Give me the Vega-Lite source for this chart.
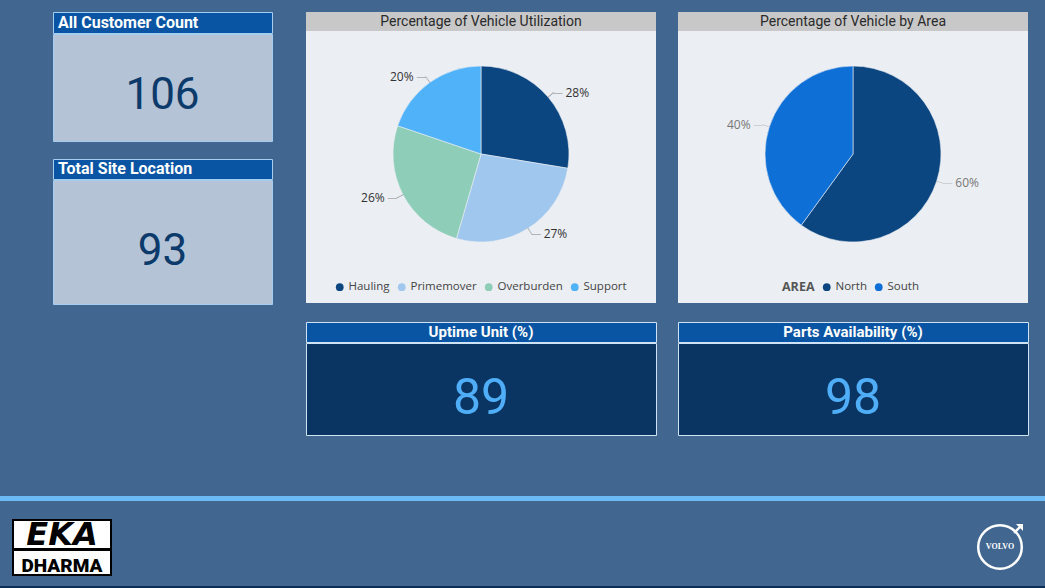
{
  "$schema": "https://vega.github.io/schema/vega-lite/v6.json",
  "background": "#41668F",
  "padding": {"left": 0, "right": 0, "top": 11, "bottom": 0},
  "config": {"view": {"stroke": null}},
  "datasets": {
    "cards": [
      {"card": "All Customer Count", "value": 106},
      {"card": "Total Site Location", "value": 93},
      {"card": "Uptime Unit (%)", "value": 89},
      {"card": "Parts Availability (%)", "value": 98}
    ],
    "titles": [
      {"title": "Percentage of Vehicle Utilization"},
      {"title": "Percentage of Vehicle by Area"}
    ],
    "utilization": [
      {"type": "Hauling", "pct": 0.276},
      {"type": "Primemover", "pct": 0.269},
      {"type": "Overburden", "pct": 0.257},
      {"type": "Support", "pct": 0.198}
    ],
    "area": [
      {"AREA": "North", "pct": 0.6},
      {"AREA": "South", "pct": 0.4}
    ],
    "brands": [
      {"brand": "EKA"},
      {"brand": "DHARMA"},
      {"brand": "VOLVO"}
    ],
    "empty": []
  },
  "resolve": {"scale": {"color": "independent", "theta": "independent"}},
  "spacing": 60,
  "vconcat": [
    {
      "spacing": 32,
      "resolve": {"scale": {"color": "independent", "theta": "independent"}},
      "hconcat": [
        {"width": 20, "height": 1, "data": {"name": "empty"}, "mark": "text", "view": {"stroke": null}},
        {
          "spacing": 16,
          "vconcat": [
            {
              "spacing": -2,
              "vconcat": [
                {
                  "width": 219, "height": 21,
                  "view": {"fill": "#0A55A3", "stroke": "#A5CDEF", "strokeWidth": 1},
                  "data": {"name": "cards"},
                  "transform": [{"filter": "datum.card === 'All Customer Count'"}],
                  "mark": {"type": "text", "align": "left", "baseline": "middle", "font": "Roboto", "fontSize": 16, "fontWeight": "bold", "fill": "#FFFFFF"},
                  "encoding": {"x": {"value": 5}, "text": {"field": "card", "type": "nominal"}}
                },
                {
                  "width": 219, "height": 107,
                  "view": {"fill": "#B4C4D6", "stroke": "#A5CDEF", "strokeWidth": 1},
                  "data": {"name": "cards"},
                  "transform": [{"filter": "datum.card === 'All Customer Count'"}],
                  "mark": {"type": "text", "align": "center", "baseline": "alphabetic", "dy": 21.5, "font": "Roboto", "fontSize": 44, "fontWeight": "normal", "fill": "#0B3A6B"},
                  "encoding": {"text": {"field": "value", "type": "nominal"}}
                }
              ]
            },
            {
              "spacing": -2,
              "vconcat": [
                {
                  "width": 219, "height": 20,
                  "view": {"fill": "#0A55A3", "stroke": "#A5CDEF", "strokeWidth": 1},
                  "data": {"name": "cards"},
                  "transform": [{"filter": "datum.card === 'Total Site Location'"}],
                  "mark": {"type": "text", "align": "left", "baseline": "middle", "font": "Roboto", "fontSize": 16, "fontWeight": "bold", "fill": "#FFFFFF"},
                  "encoding": {"x": {"value": 5}, "text": {"field": "card", "type": "nominal"}}
                },
                {
                  "width": 219, "height": 124,
                  "view": {"fill": "#B4C4D6", "stroke": "#A5CDEF", "strokeWidth": 1},
                  "data": {"name": "cards"},
                  "transform": [{"filter": "datum.card === 'Total Site Location'"}],
                  "mark": {"type": "text", "align": "center", "baseline": "alphabetic", "dy": 22.5, "font": "Roboto", "fontSize": 44, "fontWeight": "normal", "fill": "#0B3A6B"},
                  "encoding": {"text": {"field": "value", "type": "nominal"}}
                }
              ]
            }
          ]
        },
        {
          "spacing": 20,
          "resolve": {"scale": {"color": "independent", "theta": "independent"}},
          "hconcat": [
            {
              "spacing": 18,
              "vconcat": [
                {
                  "spacing": 0,
                  "vconcat": [
                    {
                      "width": 350, "height": 19,
                      "view": {"fill": "#C8C8C8", "stroke": null},
                      "data": {"name": "titles"},
                      "transform": [{"filter": "datum.title === 'Percentage of Vehicle Utilization'"}],
                      "mark": {"type": "text", "align": "center", "baseline": "middle", "font": "Roboto", "fontSize": 14, "fontWeight": "normal", "fill": "#2A2A2A"},
                      "encoding": {"text": {"field": "title", "type": "nominal"}}
                    },
                    {
                      "width": 350, "height": 272,
                      "view": {"fill": "#EBEEF3", "stroke": null},
                      "data": {"name": "utilization"},
                      "encoding": {
                        "theta": {"field": "pct", "type": "quantitative", "stack": true},
                        "order": {"field": "pct", "type": "quantitative", "sort": "descending"}
                      },
                      "layer": [
                        {
                          "mark": {"type": "arc", "outerRadius": 88, "yOffset": -13, "stroke": "#EBEEF3", "strokeWidth": 0.6},
                          "encoding": {
                            "color": {
                              "field": "type", "type": "nominal",
                              "scale": {"domain": ["Hauling", "Primemover", "Overburden", "Support"], "range": ["#0B4680", "#A0C7EE", "#8ECDB8", "#50B2F8"]},
                              "legend": {"orient": "none", "legendX": 28, "legendY": 269, "direction": "horizontal", "title": null, "symbolType": "circle", "symbolSize": 60, "symbolStrokeWidth": 0, "labelFont": "Open Sans", "labelFontSize": 11.5, "labelColor": "#444444", "labelOffset": 3, "columnPadding": 6, "padding": 0}
                            }
                          }
                        },
                        {
                          "mark": {"type": "text", "text": "—", "radius": 91.5, "yOffset": -13, "fontSize": 8, "fill": "#888888", "align": "center", "baseline": "middle", "angle": {"expr": "(datum.pct_start + datum.pct_end) * 180 - 90"}},
                          "encoding": {"detail": {"field": "type"}}
                        },
                        {
                          "mark": {"type": "text", "text": "—", "radius": 95, "yOffset": -13, "fontSize": 9, "fill": "#888888", "baseline": "middle", "align": {"expr": "datum.pct_start + datum.pct_end < 1 ? 'left' : 'right'"}},
                          "encoding": {"detail": {"field": "type"}}
                        },
                        {
                          "mark": {"type": "text", "radius": 95, "yOffset": -13, "font": "Open Sans", "fontSize": 12, "fill": "#333333", "baseline": "middle", "align": {"expr": "datum.pct_start + datum.pct_end < 1 ? 'left' : 'right'"}, "dx": {"expr": "datum.pct_start + datum.pct_end < 1 ? 12 : -12"}},
                          "encoding": {"detail": {"field": "type"}, "text": {"field": "pct", "type": "quantitative", "format": ".0%"}}
                        }
                      ]
                    }
                  ]
                },
                {
                  "spacing": -2,
                  "vconcat": [
                    {
                      "width": 350, "height": 20,
                      "view": {"fill": "#0A55A3", "stroke": "#CFE3F6", "strokeWidth": 1},
                      "data": {"name": "cards"},
                      "transform": [{"filter": "datum.card === 'Uptime Unit (%)'"}],
                      "mark": {"type": "text", "align": "center", "baseline": "middle", "font": "Roboto", "fontSize": 15, "fontWeight": "bold", "fill": "#FFFFFF"},
                      "encoding": {"text": {"field": "card", "type": "nominal"}}
                    },
                    {
                      "width": 350, "height": 92,
                      "view": {"fill": "#0A3563", "stroke": "#CFE3F6", "strokeWidth": 1},
                      "data": {"name": "cards"},
                      "transform": [{"filter": "datum.card === 'Uptime Unit (%)'"}],
                      "mark": {"type": "text", "align": "center", "baseline": "alphabetic", "dy": 24.5, "font": "Roboto", "fontSize": 50, "fontWeight": "normal", "fill": "#4FAEF7"},
                      "encoding": {"text": {"field": "value", "type": "nominal"}}
                    }
                  ]
                }
              ]
            },
            {
              "spacing": 18,
              "vconcat": [
                {
                  "spacing": 0,
                  "vconcat": [
                    {
                      "width": 350, "height": 19,
                      "view": {"fill": "#C8C8C8", "stroke": null},
                      "data": {"name": "titles"},
                      "transform": [{"filter": "datum.title === 'Percentage of Vehicle by Area'"}],
                      "mark": {"type": "text", "align": "center", "baseline": "middle", "font": "Roboto", "fontSize": 14, "fontWeight": "normal", "fill": "#2A2A2A"},
                      "encoding": {"text": {"field": "title", "type": "nominal"}}
                    },
                    {
                      "width": 350, "height": 272,
                      "view": {"fill": "#EBEEF3", "stroke": null},
                      "data": {"name": "area"},
                      "encoding": {
                        "theta": {"field": "pct", "type": "quantitative", "stack": true},
                        "order": {"field": "pct", "type": "quantitative", "sort": "descending"}
                      },
                      "layer": [
                        {
                          "mark": {"type": "arc", "outerRadius": 88, "yOffset": -13, "stroke": "#EBEEF3", "strokeWidth": 0.6},
                          "encoding": {
                            "color": {
                              "field": "AREA", "type": "nominal",
                              "scale": {"domain": ["North", "South"], "range": ["#0B4680", "#0E6FD6"]},
                              "legend": {"orient": "none", "legendX": 104, "legendY": 269, "direction": "horizontal", "title": "AREA", "titleOrient": "left", "titleFont": "Open Sans", "titleFontSize": 12.5, "titleFontWeight": "bold", "titleColor": "#555555", "titlePadding": 6, "titleBaseline": "middle", "symbolType": "circle", "symbolSize": 60, "symbolStrokeWidth": 0, "labelFont": "Open Sans", "labelFontSize": 11.5, "labelColor": "#444444", "labelOffset": 3, "columnPadding": 6, "padding": 0}
                            }
                          }
                        },
                        {
                          "mark": {"type": "text", "text": "—", "radius": 91.5, "yOffset": -13, "fontSize": 8, "fill": "#BBBBBB", "align": "center", "baseline": "middle", "angle": {"expr": "(datum.pct_start + datum.pct_end) * 180 - 90"}},
                          "encoding": {"detail": {"field": "AREA"}}
                        },
                        {
                          "mark": {"type": "text", "text": "—", "radius": 95, "yOffset": -13, "fontSize": 9, "fill": "#BBBBBB", "baseline": "middle", "align": {"expr": "datum.pct_start + datum.pct_end < 1 ? 'left' : 'right'"}},
                          "encoding": {"detail": {"field": "AREA"}}
                        },
                        {
                          "mark": {"type": "text", "radius": 95, "yOffset": -13, "font": "Open Sans", "fontSize": 12, "fill": "#777777", "baseline": "middle", "align": {"expr": "datum.pct_start + datum.pct_end < 1 ? 'left' : 'right'"}, "dx": {"expr": "datum.pct_start + datum.pct_end < 1 ? 12 : -12"}},
                          "encoding": {"detail": {"field": "AREA"}, "text": {"field": "pct", "type": "quantitative", "format": ".0%"}}
                        }
                      ]
                    }
                  ]
                },
                {
                  "spacing": -2,
                  "vconcat": [
                    {
                      "width": 350, "height": 20,
                      "view": {"fill": "#0A55A3", "stroke": "#CFE3F6", "strokeWidth": 1},
                      "data": {"name": "cards"},
                      "transform": [{"filter": "datum.card === 'Parts Availability (%)'"}],
                      "mark": {"type": "text", "align": "center", "baseline": "middle", "font": "Roboto", "fontSize": 15, "fontWeight": "bold", "fill": "#FFFFFF"},
                      "encoding": {"text": {"field": "card", "type": "nominal"}}
                    },
                    {
                      "width": 350, "height": 92,
                      "view": {"fill": "#0A3563", "stroke": "#CFE3F6", "strokeWidth": 1},
                      "data": {"name": "cards"},
                      "transform": [{"filter": "datum.card === 'Parts Availability (%)'"}],
                      "mark": {"type": "text", "align": "center", "baseline": "alphabetic", "dy": 24.5, "font": "Roboto", "fontSize": 50, "fontWeight": "normal", "fill": "#4FAEF7"},
                      "encoding": {"text": {"field": "value", "type": "nominal"}}
                    }
                  ]
                }
              ]
            }
          ]
        }
      ]
    },
    {
      "spacing": 18,
      "vconcat": [
        {"width": 1045, "height": 5, "data": {"name": "empty"}, "mark": "text", "view": {"fill": "#6BB9F5", "stroke": null}},
        {
          "spacing": 10,
          "vconcat": [
            {
              "spacing": 0,
              "hconcat": [
                {"width": 12, "height": 1, "data": {"name": "empty"}, "mark": "text", "view": {"stroke": null}},
                {
                  "spacing": -4,
                  "vconcat": [
                    {
                      "width": 98, "height": 29,
                      "view": {"fill": "#FFFFFF", "stroke": "#000000", "strokeWidth": 2},
                      "data": {"name": "brands"},
                      "transform": [{"filter": "datum.brand === 'EKA'"}],
                      "mark": {"type": "text", "clip": true, "align": "center", "baseline": "alphabetic", "dy": 10.5, "font": "DejaVu Sans", "fontSize": 32, "fontWeight": "bold", "fontStyle": "italic", "fill": "#000000"},
                      "encoding": {"text": {"field": "brand", "type": "nominal"}}
                    },
                    {
                      "width": 98, "height": 25,
                      "view": {"fill": "#FFFFFF", "stroke": "#000000", "strokeWidth": 2},
                      "data": {"name": "brands"},
                      "transform": [{"filter": "datum.brand === 'DHARMA'"}],
                      "mark": {"type": "text", "clip": true, "align": "center", "baseline": "alphabetic", "dy": 9.5, "font": "Roboto", "fontSize": 19, "fontWeight": 900, "fill": "#000000"},
                      "encoding": {"text": {"field": "brand", "type": "nominal"}}
                    }
                  ]
                },
                {"width": 861, "height": 1, "data": {"name": "empty"}, "mark": "text", "view": {"stroke": null}},
                {
                  "width": 50, "height": 54,
                  "view": {"stroke": null},
                  "data": {"name": "brands"},
                  "transform": [{"filter": "datum.brand === 'VOLVO'"}],
                  "layer": [
                    {"mark": {"type": "point", "shape": "circle", "size": 1900, "filled": false, "stroke": "#FFFFFF", "strokeWidth": 2.5, "opacity": 1}},
                    {"mark": {"type": "point", "shape": "M1,-1 L1,0 L0.62,-0.38 L-0.15,0.4 L-0.4,0.15 L0.38,-0.62 L0,-1 Z", "size": 196, "filled": true, "fill": "#FFFFFF", "opacity": 1, "xOffset": 16, "yOffset": -16}},
                    {"mark": {"type": "text", "align": "center", "baseline": "middle", "font": "Liberation Serif", "fontSize": 8, "fontWeight": "bold", "fill": "#FFFFFF"}, "encoding": {"text": {"field": "brand", "type": "nominal"}}}
                  ]
                },
                {"width": 20, "height": 1, "data": {"name": "empty"}, "mark": "text", "view": {"stroke": null}}
              ]
            },
            {"width": 1045, "height": 2, "data": {"name": "empty"}, "mark": "text", "view": {"fill": "#0C2E55", "stroke": null}}
          ]
        }
      ]
    }
  ]
}
